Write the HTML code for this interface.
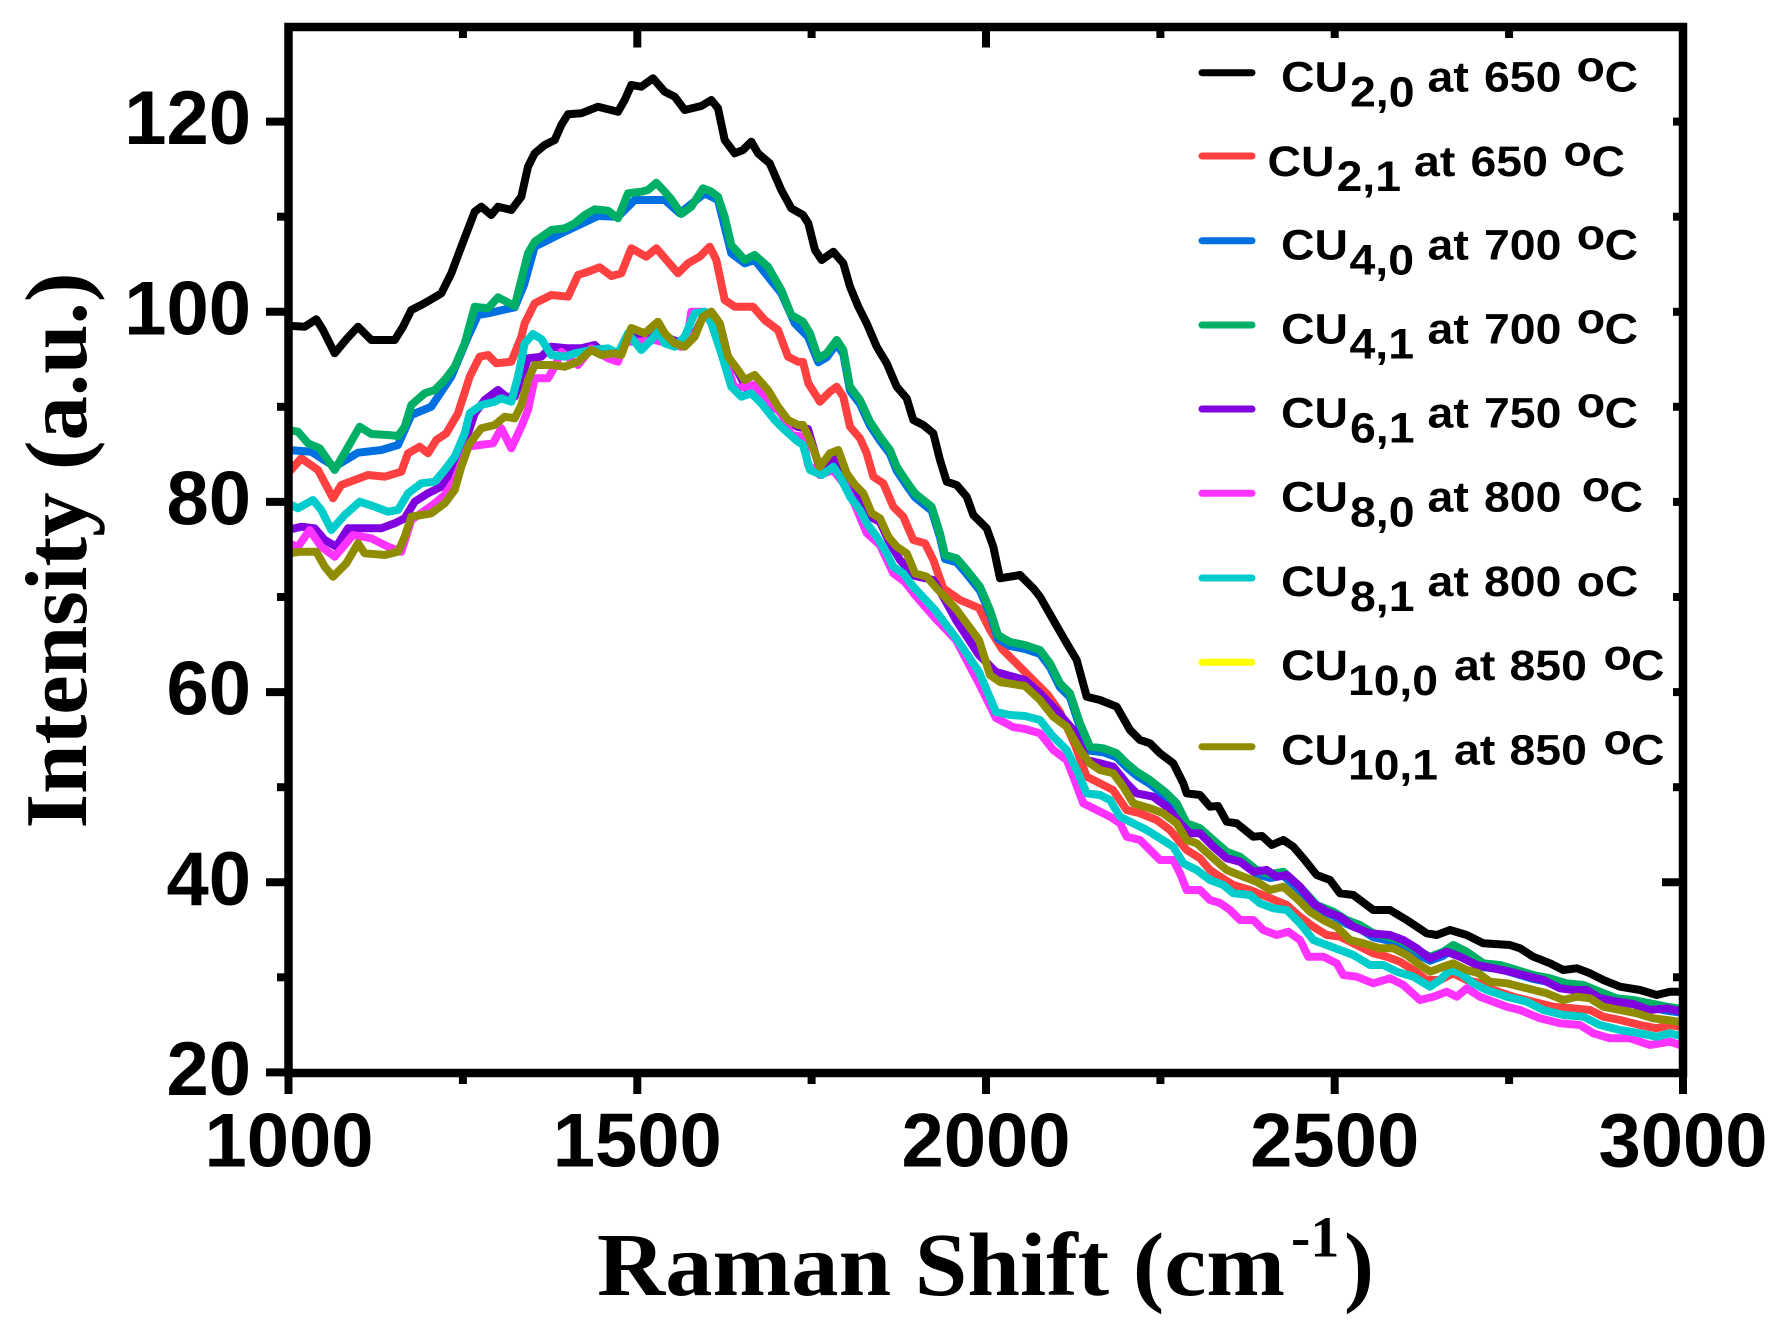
<!DOCTYPE html>
<html>
<head>
<meta charset="utf-8">
<style>
  html,body{margin:0;padding:0;background:#fff;}
  svg{display:block;}
  .tick{font-family:"Liberation Sans",Arial,sans-serif;font-weight:bold;font-size:76px;fill:#000;}
  .leg text{font-family:"Liberation Sans",Arial,sans-serif;font-weight:bold;font-size:43px;fill:#000;}
  .ttl{font-family:"Liberation Serif","Times New Roman",serif;font-weight:bold;fill:#000;}
  .c{fill:none;stroke-linejoin:round;stroke-linecap:round;stroke-width:8;}
</style>
</head>
<body>
<svg width="1784" height="1325" viewBox="0 0 1784 1325" xmlns="http://www.w3.org/2000/svg">
<rect x="0" y="0" width="1784" height="1325" fill="#fff"/>
<defs>
  <clipPath id="pa"><rect x="289" y="28" width="1394" height="1045"/></clipPath>
</defs>

<g clip-path="url(#pa)">
<!-- black CU2,0 -->
<polyline class="c" stroke="#000" stroke-width="7" points="288,325.7 304.7,326.7 316.3,319.3 323,330 334.7,353.3 346.3,339.3 358,326.7 371.3,340 394.7,340 403,326.7 411.3,310 421.3,305 431.3,299.3 441.3,293.3 451.3,273.3 461.3,246.7 474.7,211.7 481.3,206.7 491.3,215 498,206.7 511.3,210 521.3,196.7 528,166.7 534.7,153.3 544.7,145 554.7,140 561.3,125 568,114.3 581.3,113.3 598,106.7 618,111.7 624.7,100 631.3,85 641.3,86.7 653,78.3 664.7,91.7 674.7,96.7 684.7,110 701.3,106 711.3,100 718,108.3 724.7,140 734.7,153.3 743,150 751.3,141.7 758,153.3 769.7,163.3 781.3,190 791.3,208.3 803,215 808.3,223.3 815,250 821.7,260 833.3,251.7 843.3,263.3 850,286.7 858.3,306.7 866.7,323.3 876.7,346.7 886.7,363.3 896.7,386.7 906.7,398.3 913.3,420 923.3,425 933.3,433.3 940,460 946.7,481.7 956.7,485 966.7,496.7 973.3,515 986.7,528.3 993.3,546.7 1000,578.3 1010,576.7 1020,575 1033.3,588.3 1040,596.7 1053.3,620 1066.7,643.3 1076.7,660 1086.7,696.7 1100,700 1116.7,706.7 1130,730 1140,740 1150,743.3 1160,753.3 1173.3,763.3 1183.3,783.3 1186.7,793.3 1200,795 1210,806.7 1218,806 1226.7,821.7 1236.7,823.3 1253.3,836.7 1262,836 1271.7,845 1283.3,840 1293.3,846.7 1303.3,858.3 1316.7,875 1330,880 1340,893.3 1353.3,895 1373.3,910 1390,910 1406.7,920 1426.7,933.3 1436.7,935 1450,930 1466.7,935 1483.3,943.3 1510,945 1520,948.3 1533.3,956.7 1550,963.3 1563.3,970 1576.7,968.3 1590,973.3 1603.3,980 1620,986.7 1640,990 1656.7,995 1670,991.7 1690,991.7"/>
<!-- red CU2,1 -->
<polyline class="c" stroke="#FF4040" points="284,473.3 288,473.3 301.3,458.3 318,470 333,498.3 341.3,485 354.7,480 368,475 384.7,476.7 401.3,471.7 408,453.3 419.7,446.7 428,453.3 436.3,440 446.3,433.3 458,413.3 469.7,376.7 479.7,356.7 488,355 496.3,363.3 511.3,361.7 521.3,336.7 524.7,323.3 534.7,303.3 551.3,295 568,296.7 578,275 588,271.7 599.7,267.3 611.3,276 621.3,273.3 631.3,248.3 646.3,256.7 656.3,248.3 668,261.7 678,273.3 688,263.3 699.7,256.7 709.7,246.7 716.3,260 724.7,300 734.7,306.7 753,306.7 764.7,320 778,330 788,356.7 798,361.7 803,362 808.3,383.3 820,401.7 830,391.7 836.7,386.7 843.3,396.7 850,426.7 860,438.3 866.7,453.3 873.3,476.7 883.3,483.3 893.3,506.7 903.3,516.7 913.3,540 925,543.3 933.3,560 943.3,588.3 960,600 979,608 990,630 1002,649 1025,672 1048,695 1060,712 1075,745 1086.7,776.7 1100,783.3 1113,790 1126.7,810 1140,813.3 1156.7,820 1170,830 1186.7,850 1200,858.3 1210,870 1220,876.7 1233.3,885 1250,890 1266.7,896.7 1286.7,905 1300,916.7 1313.3,926.7 1326.7,935 1340,936.7 1353.3,943.3 1373.3,953.3 1386.7,956.7 1400,961.7 1413.3,970 1426.7,980 1440,980 1453.3,973.3 1466.7,980 1480,983.3 1493.3,990 1513.3,996.7 1533.3,1001.7 1553.3,1006.7 1573.3,1008.3 1590,1010 1603.3,1016.7 1620,1020 1640,1025 1656.7,1028.3 1670,1025 1690,1028.3"/>
<!-- blue CU4,0 -->
<polyline class="c" stroke="#0070E0" points="284,450 288,450 311.3,451.7 334.7,466.7 358,452.7 381.3,450 398,445 411.3,415 431.3,406.7 451.3,376.7 468,336.7 478,315 488,313.3 514.7,307.3 524,285 534.7,246.7 564.7,231.7 598,216 618,216.7 634.7,200 664.7,200 679.7,213.3 704.7,193.3 718,200 731.3,253.3 744.7,263.3 754.7,260 781.3,293.3 794.7,323.3 808,336.7 818.3,362.3 826.7,357.3 836.7,344 843.3,354 850,390.7 860,404 870,425.7 880,440.7 890,454 896.7,470.7 906.7,485.7 915,497.3 923.3,504 931.7,510.7 940,537.3 945,559 956.7,562.3 966.7,574 980,590.7 990,614 998,639 1010,646 1025,649 1040,654 1050,667.3 1060,687.3 1070,697.3 1080,727.3 1090,750.7 1103.3,752.3 1116.7,757.3 1126.7,767.3 1136.7,775.7 1150,784 1166.7,797.3 1176.7,807.3 1186.7,827.3 1200,832.3 1213.3,844 1226.7,855.7 1240,860.7 1256.7,874 1270,878 1283.3,875.7 1300,890.7 1316.7,909 1333.3,915.7 1346.7,924 1360,929 1373.3,937.3 1386,940 1400,944 1416.7,954 1430,960.7 1443.3,955.7 1453.3,949 1466.7,955.7 1483.3,967.3 1500,969 1516.7,974 1533.3,979 1550,982.3 1566.7,987.3 1583.3,989 1600,995.7 1616.7,1002.3 1633.3,1004 1650,1007.3 1666.7,1010.7 1690,1014"/>
<!-- green CU4,1 -->
<polyline class="c" stroke="#00AF66" points="284,430 288,430 298,431.7 308,443.3 319.7,448.3 334.7,470 346.3,450 359.7,426.7 371.3,434 388,435 398,436 404.7,426.7 411.3,405 424.7,393.3 434.7,390 444.7,380 454.7,366.7 464.7,343.3 474.7,306.7 488,308.3 498,297.3 514.7,306 521.3,280 528,253.3 534.7,241.7 551.3,230 564.7,228.3 574.7,223.3 584.7,215 594.7,209.3 608,210.7 618,218.3 628,193.3 641.3,191.7 648,190 656.3,182.7 664.7,191.7 671.3,199.3 681.3,214 691.3,206.7 703,188.3 711.3,191.7 718,196.7 724.7,216.7 731.3,245 744.7,260 754.7,255 768,266.7 781.3,290 791.3,315 803,321.7 810,333.3 818.3,358.3 826.7,353.3 836.7,340 843.3,350 850,386.7 860,400 870,421.7 880,436.7 890,450 896.7,466.7 906.7,481.7 915,493.3 923.3,500 931.7,506.7 940,533.3 945,555 956.7,558.3 966.7,570 980,586.7 990,610 998,635 1010,642 1025,645 1040,650 1050,663.3 1060,683.3 1070,693.3 1080,723.3 1090,746.7 1103.3,748.3 1116.7,753.3 1126.7,763.3 1136.7,771.7 1150,780 1166.7,793.3 1176.7,803.3 1186.7,823.3 1200,828.3 1213.3,840 1226.7,851.7 1240,856.7 1256.7,870 1270,874 1283.3,871.7 1300,886.7 1316.7,905 1333.3,911.7 1346.7,920 1360,925 1373.3,933.3 1386,936 1400,940 1416.7,950 1430,956.7 1443.3,951.7 1453.3,945 1466.7,951.7 1483.3,963.3 1500,965 1516.7,970 1533.3,975 1550,978.3 1566.7,983.3 1583.3,985 1600,991.7 1616.7,998.3 1633.3,1000 1650,1003.3 1666.7,1006.7 1690,1010"/>
<!-- purple CU6,1 -->
<polyline class="c" stroke="#8000E0" points="284,530 288,530 301.3,526.7 314.7,528.3 324.7,540 336.3,546.7 348,528.3 364.7,528.3 381.3,528.3 394.7,523.3 404.7,518.3 414.7,501.7 428,493.3 441.3,486.7 454.7,470 464.7,443.3 474.7,413.3 484.7,400 498,390 506.3,396.7 514.7,396.7 528,358.3 541.3,356.7 551.3,346.7 568,348.3 581.3,348.3 594.7,345 608,356.7 621,350 631.3,333 645,336 658,326 668,338 681,343 693,338 703,316.7 711.3,311.7 719.7,323.3 728,356.7 738,372 748,391.7 768,403.3 778,410 788,422 798,427 808,429 820,470 833.3,456.7 846.7,476 855,488 870,516.7 880,522 888.3,540 900,560 915,576 933.3,580 945,600 956,620 979,655 996,672 1025,680 1040,693.3 1056,710 1073.3,730 1086.7,760 1100,763.3 1113.3,766.7 1126.7,783.3 1136.7,793.3 1153.3,796.7 1166.7,806.7 1180,823.3 1190,833.3 1200,833.3 1213.3,846.7 1226.7,858.3 1240,861.7 1253.3,871.7 1266.7,870 1276.7,876.7 1287,875 1300,886.7 1313.3,903.3 1326.7,911.7 1340,916.7 1353.3,926.7 1370,933.3 1390,935 1403.3,940 1416.7,948.3 1430,958.3 1446.7,951.7 1460,956.7 1476.7,965 1493.3,968.3 1510,971.7 1527,976 1543.3,980 1560,988.3 1573.3,990 1586.7,990 1600,998.3 1616.7,1001.7 1633,1004 1650,1010 1666.7,1008.3 1690,1013.3"/>
<!-- magenta CU8,0 -->
<polyline class="c" stroke="#FF33FF" points="284,543.3 288,543.3 298,546.7 309.7,530 321.3,546.7 334.7,556.7 353,535 371.3,538.3 388,546.7 401.3,551.7 411.3,520 428,508.3 434.7,503.3 444.7,495 454.7,480 461.3,463.3 468,446.7 479.7,445 493,443.3 501.3,428.3 511.3,448.3 521.3,426.7 528,410 534.7,378.3 548,378.3 554.7,366.7 561.3,351.7 578,365 591.3,348.3 608,358.3 618,361.7 624.7,341.7 641.3,341.7 654.7,340 668,343.3 681.3,346.7 688,333.3 691.3,311.7 704.7,311.7 712,318 721.3,350 734.7,388.3 754.7,385 768,400 781.3,413.3 791.3,435 803,436.7 808,465 820,475 833,470 845,485 855,505 866.7,533 880,545 893.3,573.3 905,582 915,595 935,618 956,640 979,683.5 996,718 1013,727 1025,729 1040,733.3 1053.3,750 1066.7,760 1073.3,776.7 1083.3,803.3 1096.7,810 1110,816.7 1120,823.3 1126.7,836.7 1140,840 1150,850 1160,860 1173.3,860 1180,873.3 1186.7,890 1200,890 1210,900 1220,903 1230,910 1240,920 1253.3,920 1263.3,930 1276.7,935 1288.3,931.7 1300,940 1308.3,956.7 1323.3,956.7 1336.7,963.3 1343.3,975 1356.7,976.7 1373.3,983.3 1390,978.3 1403.3,985 1420,1000 1433.3,996.7 1446.7,991.7 1456.7,996.7 1466.7,988.3 1480,996.7 1493.3,1001.7 1506.7,1006.7 1520,1010 1540,1018.3 1560,1023.3 1580,1025 1593.3,1033.3 1610,1038.3 1630,1038.3 1650,1045 1670,1041.7 1690,1048.3"/>
<!-- cyan CU8,1 -->
<polyline class="c" stroke="#00CCCC" points="284,503.3 288,503.3 298,508.3 313,500 321.3,510 331.3,530 344.7,515 359.7,501.7 374.7,506.7 388,511.7 398,510 408,493.3 421.3,483.3 434.7,481.7 444.7,470 454.7,456.7 464.7,433.3 469.7,413.3 481.3,405 494.7,401.7 501.3,398.3 511.3,401.7 518,376.7 524.7,343.3 533,334 541.3,339 551.3,355 564.7,356.7 574.7,353.3 591.3,350 608,348.3 618,353.3 628,333.3 641.3,350 651.3,340 658,331.7 664.7,343.3 674.7,346.7 684.7,336.7 694.7,313.3 704.7,311.7 711.3,323.3 721.3,353.3 731.3,386.7 741.3,396.7 751.3,393.3 761.3,403.3 774.7,420 784.7,430 798,441.7 803,445 810,470 821.7,475 833.3,466.7 840,476.7 850,496.7 860,510 866.7,523.3 876.7,536.7 886.7,553.3 893.3,566.7 903.3,573.3 913.3,586.7 935,610 956,638 979,672 996,712 1010,715 1025,716 1040,720 1053.3,736.7 1066.7,750 1076.7,770 1086.7,793.3 1100,795 1110,800 1120,816.7 1133.3,823.3 1146.7,830 1160,838.3 1173.3,846.7 1183.3,863.3 1196.7,870 1210,880 1223.3,885 1233.3,893.3 1250,895 1260,903.3 1273.3,908.3 1286.7,910 1300,923.3 1313.3,940 1326.7,945 1340,950 1353.3,955 1370,965 1383.3,965 1396.7,971.7 1413.3,976.7 1430,986.7 1440,980 1450,970 1460,973 1473.3,983.3 1486.7,990 1506.7,996.7 1526.7,1001.7 1543.3,1010 1563.3,1015 1583.3,1016.7 1600,1025 1620,1030 1640,1033.3 1656.7,1036.7 1670,1033.3 1690,1038.3"/>
<!-- olive CU10,1 -->
<polyline class="c" stroke="#8F8C00" points="284,553.3 288,553.3 301.3,551.7 316.3,551.7 324.7,566.7 333,576.7 346.3,563.3 358,543.3 364.7,553.3 384.7,555 398,551.7 404.7,536.7 411.3,516.7 421.3,515 431.3,513.3 444.7,503.3 454.7,490 461.3,466.7 469.7,443.3 481.3,428.3 494.7,425 504.7,416.7 514.7,418.3 521.3,405 528,380 534.7,365 551.3,365 564.7,366.7 578,361.7 591.3,350 601.3,355 614.7,353.3 621.3,355 631.3,328 644.7,333.3 658,321.7 664.7,333.3 674.7,343.3 684.7,346.7 694.7,336.7 703,316.7 711.3,311.7 719.7,323.3 728,356.7 738,370 744.7,380 754.7,375 768,390 778,406.7 788,420 798,425 803,425 810,440 820,466.7 830,453.3 838.3,450 846.7,473.3 855,485 863.3,493.3 871.7,513.3 880,518.3 888.3,536.7 896.7,546.7 906.7,553.3 915,573.3 926.7,576.7 936.7,588.3 956,609 979,640 990,675 1000,682 1025,686 1040,700 1053.3,716.7 1066.7,726.7 1080,750 1090,763.3 1100,770 1113.3,773.3 1123.3,786.7 1133.3,803.3 1150,808.3 1163.3,813.3 1176.7,823.3 1186.7,840 1196.7,843.3 1213.3,858.3 1226.7,870 1243.3,876.7 1256.7,881.7 1270,890 1283.3,886.7 1296.7,898.3 1310,911.7 1323.3,920 1336.7,926.7 1350,940 1363.3,943.3 1380,948.3 1393.3,948.3 1406.7,955 1420,965 1430,971.7 1443.3,966.7 1453.3,963.3 1466.7,970 1478,973 1490,981.7 1506.7,983.3 1526.7,988.3 1546.7,993.3 1563.3,1000 1576.7,996.7 1590,998.3 1603.3,1006.7 1620,1010 1636.7,1013.3 1653.3,1018.3 1666.7,1020 1690,1023.3"/>
</g>

<!-- axes frame -->
<rect x="288.5" y="27" width="1394.5" height="1046" fill="none" stroke="#000" stroke-width="8.5"/>

<!-- ticks -->
<g stroke="#000" stroke-width="8">
  <line x1="266" y1="1072.4" x2="288" y2="1072.4"/>
  <line x1="266" y1="882.3" x2="288" y2="882.3"/>
  <line x1="266" y1="692.1" x2="288" y2="692.1"/>
  <line x1="266" y1="501.9" x2="288" y2="501.9"/>
  <line x1="266" y1="311.8" x2="288" y2="311.8"/>
  <line x1="266" y1="121.6" x2="288" y2="121.6"/>
  <line x1="277" y1="977.3" x2="288" y2="977.3"/>
  <line x1="277" y1="787.2" x2="288" y2="787.2"/>
  <line x1="277" y1="597.0" x2="288" y2="597.0"/>
  <line x1="277" y1="406.8" x2="288" y2="406.8"/>
  <line x1="277" y1="216.7" x2="288" y2="216.7"/>
  <line x1="288.5" y1="1073" x2="288.5" y2="1094"/>
  <line x1="637.3" y1="1073" x2="637.3" y2="1094"/>
  <line x1="986" y1="1073" x2="986" y2="1094"/>
  <line x1="1334.7" y1="1073" x2="1334.7" y2="1094"/>
  <line x1="1683" y1="1073" x2="1683" y2="1094"/>
  <line x1="462.9" y1="1073" x2="462.9" y2="1084"/>
  <line x1="811.6" y1="1073" x2="811.6" y2="1084"/>
  <line x1="1160.4" y1="1073" x2="1160.4" y2="1084"/>
  <line x1="1509.1" y1="1073" x2="1509.1" y2="1084"/>
  <line x1="462.9" y1="27" x2="462.9" y2="38"/>
  <line x1="637.3" y1="27" x2="637.3" y2="47.5"/>
  <line x1="811.6" y1="27" x2="811.6" y2="38"/>
  <line x1="986" y1="27" x2="986" y2="47.5"/>
  <line x1="1160.4" y1="27" x2="1160.4" y2="38"/>
  <line x1="1334.7" y1="27" x2="1334.7" y2="38"/>
  <line x1="1509.1" y1="27" x2="1509.1" y2="38"/>
  <line x1="1662" y1="882.3" x2="1683" y2="882.3"/>
  <line x1="1673" y1="977.3" x2="1683" y2="977.3"/>
  <line x1="1673" y1="787.2" x2="1683" y2="787.2"/>
  <line x1="1673" y1="692.1" x2="1683" y2="692.1"/>
  <line x1="1673" y1="597.0" x2="1683" y2="597.0"/>
  <line x1="1673" y1="501.9" x2="1683" y2="501.9"/>
  <line x1="1673" y1="406.8" x2="1683" y2="406.8"/>
  <line x1="1673" y1="311.8" x2="1683" y2="311.8"/>
  <line x1="1673" y1="216.7" x2="1683" y2="216.7"/>
  <line x1="1673" y1="121.6" x2="1683" y2="121.6"/>
</g>

<!-- y tick labels -->
<g class="tick" text-anchor="end">
  <text x="251" y="1095">20</text>
  <text x="251" y="904.8">40</text>
  <text x="251" y="714.6">60</text>
  <text x="251" y="524.4">80</text>
  <text x="251" y="334.3">100</text>
  <text x="251" y="144.1">120</text>
</g>
<!-- x tick labels -->
<g class="tick" text-anchor="middle">
  <text x="289" y="1166.7">1000</text>
  <text x="637.3" y="1166.7">1500</text>
  <text x="986" y="1166.7">2000</text>
  <text x="1334.7" y="1166.7">2500</text>
  <text x="1683" y="1166.7">3000</text>
</g>

<!-- axis titles -->
<text class="ttl" x="597" y="1295" font-size="90" textLength="688" lengthAdjust="spacingAndGlyphs">Raman Shift (cm</text>
<text class="ttl" x="1291" y="1256.7" font-size="58">-1</text>
<text class="ttl" x="1344" y="1295" font-size="90">)</text>
<text class="ttl" transform="translate(86,550.5) rotate(-90)" x="0" y="0" font-size="88" text-anchor="middle" textLength="556" lengthAdjust="spacingAndGlyphs">Intensity (a.u.)</text>

<!-- legend lines -->
<g stroke-width="7" stroke-linecap="round">
  <line x1="1202" y1="72.7" x2="1252" y2="72.7" stroke="#000"/>
  <line x1="1202" y1="156" x2="1252" y2="156" stroke="#FF4040"/>
  <line x1="1202" y1="240.7" x2="1252" y2="240.7" stroke="#0070E0"/>
  <line x1="1202" y1="325" x2="1252" y2="325" stroke="#00AF66"/>
  <line x1="1202" y1="409" x2="1252" y2="409" stroke="#8000E0"/>
  <line x1="1202" y1="493.3" x2="1252" y2="493.3" stroke="#FF33FF"/>
  <line x1="1202" y1="578" x2="1252" y2="578" stroke="#00CCCC"/>
  <line x1="1202" y1="662.3" x2="1252" y2="662.3" stroke="#FFFF00"/>
  <line x1="1202" y1="746.7" x2="1252" y2="746.7" stroke="#8F8C00"/>
</g>

<!-- legend text -->
<g class="leg">
  <!-- 1 -->
  <text x="1281" y="91.7" textLength="67" lengthAdjust="spacingAndGlyphs">CU</text>
  <text x="1350" y="106.7" textLength="64.5" lengthAdjust="spacingAndGlyphs">2,0</text>
  <text x="1427.5" y="91.7" textLength="41.3" lengthAdjust="spacingAndGlyphs">at</text>
  <text x="1484" y="91.7" textLength="77.4" lengthAdjust="spacingAndGlyphs">650</text>
  <text x="1576.5" y="81.2" textLength="28.4" lengthAdjust="spacingAndGlyphs">o</text>
  <text x="1604.5" y="91.7" textLength="33.5" lengthAdjust="spacingAndGlyphs">C</text>
  <!-- 2 -->
  <text x="1267.5" y="176" textLength="67" lengthAdjust="spacingAndGlyphs">CU</text>
  <text x="1336.5" y="191" textLength="64.5" lengthAdjust="spacingAndGlyphs">2,1</text>
  <text x="1414" y="176" textLength="41.3" lengthAdjust="spacingAndGlyphs">at</text>
  <text x="1470.5" y="176" textLength="77.4" lengthAdjust="spacingAndGlyphs">650</text>
  <text x="1563.5" y="165.5" textLength="28.4" lengthAdjust="spacingAndGlyphs">o</text>
  <text x="1591.5" y="176" textLength="33.5" lengthAdjust="spacingAndGlyphs">C</text>
  <!-- 3 -->
  <text x="1281" y="259.3" textLength="67" lengthAdjust="spacingAndGlyphs">CU</text>
  <text x="1349.5" y="274.3" textLength="64.5" lengthAdjust="spacingAndGlyphs">4,0</text>
  <text x="1427.5" y="259.3" textLength="41.3" lengthAdjust="spacingAndGlyphs">at</text>
  <text x="1484" y="259.3" textLength="77.4" lengthAdjust="spacingAndGlyphs">700</text>
  <text x="1576.8" y="248.8" textLength="28.4" lengthAdjust="spacingAndGlyphs">o</text>
  <text x="1604.5" y="259.3" textLength="33.5" lengthAdjust="spacingAndGlyphs">C</text>
  <!-- 4 -->
  <text x="1281" y="343.3" textLength="67" lengthAdjust="spacingAndGlyphs">CU</text>
  <text x="1349.5" y="358.3" textLength="64.5" lengthAdjust="spacingAndGlyphs">4,1</text>
  <text x="1427.5" y="343.3" textLength="41.3" lengthAdjust="spacingAndGlyphs">at</text>
  <text x="1484" y="343.3" textLength="77.4" lengthAdjust="spacingAndGlyphs">700</text>
  <text x="1576.8" y="332.8" textLength="28.4" lengthAdjust="spacingAndGlyphs">o</text>
  <text x="1604.5" y="343.3" textLength="33.5" lengthAdjust="spacingAndGlyphs">C</text>
  <!-- 5 -->
  <text x="1281" y="427.7" textLength="67" lengthAdjust="spacingAndGlyphs">CU</text>
  <text x="1350" y="442.7" textLength="64.5" lengthAdjust="spacingAndGlyphs">6,1</text>
  <text x="1427.5" y="427.7" textLength="41.3" lengthAdjust="spacingAndGlyphs">at</text>
  <text x="1484" y="427.7" textLength="77.4" lengthAdjust="spacingAndGlyphs">750</text>
  <text x="1576.8" y="417.2" textLength="28.4" lengthAdjust="spacingAndGlyphs">o</text>
  <text x="1604.5" y="427.7" textLength="33.5" lengthAdjust="spacingAndGlyphs">C</text>
  <!-- 6 -->
  <text x="1281" y="511.7" textLength="67" lengthAdjust="spacingAndGlyphs">CU</text>
  <text x="1350" y="526.7" textLength="64.5" lengthAdjust="spacingAndGlyphs">8,0</text>
  <text x="1427.5" y="511.7" textLength="41.3" lengthAdjust="spacingAndGlyphs">at</text>
  <text x="1484" y="511.7" textLength="77.4" lengthAdjust="spacingAndGlyphs">800</text>
  <text x="1581.8" y="501.2" textLength="28.4" lengthAdjust="spacingAndGlyphs">o</text>
  <text x="1609.5" y="511.7" textLength="33.5" lengthAdjust="spacingAndGlyphs">C</text>
  <!-- 7 -->
  <text x="1281" y="596" textLength="67" lengthAdjust="spacingAndGlyphs">CU</text>
  <text x="1350" y="611" textLength="64.5" lengthAdjust="spacingAndGlyphs">8,1</text>
  <text x="1427.5" y="596" textLength="41.3" lengthAdjust="spacingAndGlyphs">at</text>
  <text x="1484" y="596" textLength="77.4" lengthAdjust="spacingAndGlyphs">800</text>
  <text x="1576.8" y="596" textLength="61.5" lengthAdjust="spacingAndGlyphs">oC</text>
  <!-- 8 -->
  <text x="1281" y="680" textLength="67" lengthAdjust="spacingAndGlyphs">CU</text>
  <text x="1348" y="695" textLength="90" lengthAdjust="spacingAndGlyphs">10,0</text>
  <text x="1454" y="680" textLength="41.3" lengthAdjust="spacingAndGlyphs">at</text>
  <text x="1509.5" y="680" textLength="77.4" lengthAdjust="spacingAndGlyphs">850</text>
  <text x="1603.5" y="669.5" textLength="28.4" lengthAdjust="spacingAndGlyphs">o</text>
  <text x="1631" y="680" textLength="33.5" lengthAdjust="spacingAndGlyphs">C</text>
  <!-- 9 -->
  <text x="1281" y="764.3" textLength="67" lengthAdjust="spacingAndGlyphs">CU</text>
  <text x="1348" y="779.3" textLength="90" lengthAdjust="spacingAndGlyphs">10,1</text>
  <text x="1454" y="764.3" textLength="41.3" lengthAdjust="spacingAndGlyphs">at</text>
  <text x="1509.5" y="764.3" textLength="77.4" lengthAdjust="spacingAndGlyphs">850</text>
  <text x="1603.5" y="753.8" textLength="28.4" lengthAdjust="spacingAndGlyphs">o</text>
  <text x="1631" y="764.3" textLength="33.5" lengthAdjust="spacingAndGlyphs">C</text>
</g>
</svg>
</body>
</html>
